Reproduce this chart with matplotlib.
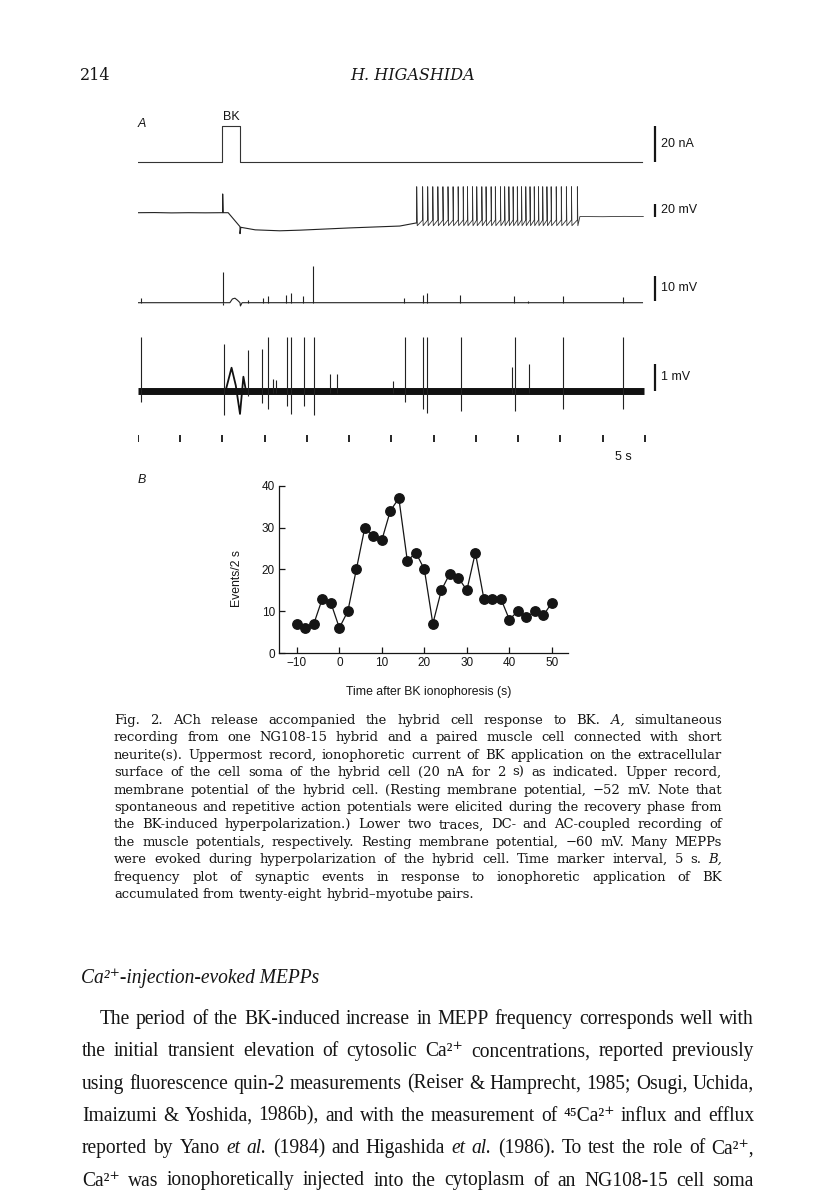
import matplotlib
matplotlib.use('Agg')
import matplotlib.pyplot as plt
import matplotlib.transforms as mtrans

# ---------------- data ----------------
# Panel B: frequency plot
time_s = [-10, -8, -6, -4, -2, 0, 2, 4, 6, 8, 10, 12, 14, 16, 18, 20, 22, 24, 26, 28,
          30, 32, 34, 36, 38, 40, 42, 44, 46, 48, 50]
events_per_2s = [7, 6, 7, 13, 12, 6, 10, 20, 30, 28, 27, 34, 37, 22, 24, 20, 7, 15, 19, 18,
                 15, 24, 13, 13, 13, 8, 10, 8.5, 10, 9, 12]
xticks_B = [-10, 0, 10, 20, 30, 40, 50]
yticks_B = [0, 10, 20, 30, 40]

# Panel A, trace 1: ionophoretic current (nA)
stim_t = [0, 9.93, 9.93, 12.1, 12.1, 59.6]
stim_nA = [0, 0, 20, 20, 0, 0]

# Panel A, trace 2: hybrid membrane potential (mV), slow part
memb_t = [0, 2, 4, 6, 8, 9.9, 10.05, 10.05, 10.1, 10.7, 12.1, 12.1, 12.2, 13.9, 16.8,
          19.2, 25.0, 31.0, 33.0]
memb_mV = [-52, -51.8, -52.3, -52, -52.2, -52, -52, -22.5, -52, -52, -74, -85, -75, -79,
           -80.5, -79.5, -76, -73, -68]
spike_t = [33.0, 33.7, 34.3, 34.9, 35.5, 36.1, 36.7, 37.3, 37.9, 38.5, 39.0, 39.6, 40.1,
           40.7, 41.2, 41.8, 42.3, 42.9, 43.4, 43.9, 44.4, 44.9, 45.4, 45.9, 46.4, 46.9,
           47.4, 47.9, 48.4, 48.9, 49.5, 50.1, 50.7, 51.3, 52.0]
spike_peak_mV = -11
spike_thresh_mV = -63.5
spike_trough_mV = -72.5
post_t = [52.3, 55.0, 57.5, 59.8]
post_mV = [-58, -58.3, -57.8, -58]

# Panel A, trace 3: muscle potential, DC-coupled (mV)
mdc_base_t = [0, 10.9, 11.2, 11.5, 11.8, 12.1, 12.15, 12.35, 59.7]
mdc_base_mV = [-60, -60, -58.5, -58.2, -59.0, -60, -61.3, -60, -60]
mdc_evt_t = [0.35, 10.05, 13.05, 14.8, 15.4, 17.5, 18.1, 19.6, 20.7, 31.5, 33.7, 34.2,
             38.1, 44.5, 46.2, 50.3, 57.4]
mdc_evt_amp = [1.9, 12.4, 1.1, 1.9, 2.7, 3.0, 4.0, 2.7, 14.7, 1.9, 3.1, 3.8,
               3.0, 2.7, 0.8, 2.7, 2.2]

# Panel A, trace 4: muscle potential, AC-coupled (mV)
mac_art_t = [10.4, 11.1, 11.6, 12.1, 12.5, 12.8]
mac_art_mV = [0, 0.87, 0.2, -0.88, 0.53, 0]
mac_evt_t = [0.35, 10.17, 13.1, 14.7, 15.4, 16.0, 16.4, 17.6, 18.1, 19.7, 20.8, 22.7,
             23.6, 30.2, 31.6, 33.7, 34.2, 38.2, 44.3, 44.6, 46.3, 50.3, 57.4]
mac_evt_up = [2.02, 1.77, 1.54, 1.57, 2.02, 0.45, 0.4, 2.02, 2.02, 2.02, 2.02, 0.62,
              0.62, 0.38, 2.02, 2.02, 2.02, 2.02, 0.89, 2.02, 1.01, 2.04, 2.02]
mac_evt_down = [0.42, 0.92, 0.2, 0.47, 0.69, 0.1, 0.1, 0.58, 0.89, 0.58, 0.92, 0.1,
                0.1, 0.1, 0.42, 0.70, 0.83, 0.76, 0.1, 0.76, 0.1, 0.70, 0.70]

marker_t = [0, 5, 10, 15, 20, 25, 30, 35, 40, 45, 50, 55, 60]

scale_labels = ['20 nA', '20 mV', '10 mV', '1 mV']

caption_lines = [
    "Fig. 2. ACh release accompanied the hybrid cell response to BK. *A, simultaneous",
    "recording from one NG108-15 hybrid and a paired muscle cell connected with short",
    "neurite(s). Uppermost record, ionophoretic current of BK application on the extracellular",
    "surface of the cell soma of the hybrid cell (20 nA for 2 s) as indicated. Upper record,",
    "membrane potential of the hybrid cell. (Resting membrane potential, \u221252 mV. Note that",
    "spontaneous and repetitive action potentials were elicited during the recovery phase from",
    "the BK-induced hyperpolarization.) Lower two traces, DC- and AC-coupled recording of",
    "the muscle potentials, respectively. Resting membrane potential, \u221260 mV. Many MEPPs",
    "were evoked during hyperpolarization of the hybrid cell. Time marker interval, 5 s. *B,",
    "frequency plot of synaptic events in response to ionophoretic application of BK",
    "accumulated from twenty-eight hybrid\u2013myotube pairs.",
]
body_heading = "Ca\u00b2\u207a-injection-evoked MEPPs"
body_lines = [
    "The period of the BK-induced increase in MEPP frequency corresponds well with",
    "the initial transient elevation of cytosolic Ca\u00b2\u207a concentrations, reported previously",
    "using fluorescence quin-2 measurements (Reiser & Hamprecht, 1985; Osugi, Uchida,",
    "Imaizumi & Yoshida, 1986b), and with the measurement of \u2074\u2075Ca\u00b2\u207a influx and efflux",
    "reported by Yano *et *al. (1984) and Higashida *et *al. (1986). To test the role of Ca\u00b2\u207a,",
    "Ca\u00b2\u207a was ionophoretically injected into the cytoplasm of an NG108-15 cell soma",
]

# ---------------- layout helpers ----------------
W, H = 816, 1201
fig = plt.figure(figsize=(W / 100, H / 100), dpi=100)
PX = mtrans.Affine2D().scale(1 / W, -1 / H).translate(0, 1) + fig.transFigure
INK = '#151515'
SANS = ['Liberation Sans', 'DejaVu Sans']


def px_axes(left, top, right, bottom):
    return fig.add_axes([left / W, 1 - bottom / H, (right - left) / W, (bottom - top) / H])


T0_PX, PX_PER_S, XR_PX = 137.7, 8.455, 700.0
TMAX = (XR_PX - T0_PX) / PX_PER_S


def trace_ax(top, bottom, base_px, base_val, ppu):
    ax = px_axes(T0_PX, top, XR_PX, bottom)
    ax.set_xlim(0, TMAX)
    ax.set_ylim(base_val - (bottom - base_px) / ppu, base_val + (base_px - top) / ppu)
    ax.axis('off')
    return ax


T_BAR = (655 - T0_PX) / PX_PER_S
T_LAB = (661 - T0_PX) / PX_PER_S

# ---------------- header ----------------
fig.text(80, 80, '214', transform=PX, fontsize=11.5, family='DejaVu Serif',
         va='baseline', ha='left', color=INK)
fig.text(413, 80, 'H. HIGASHIDA', transform=PX, fontsize=11.5, family='DejaVu Serif',
         style='italic', va='baseline', ha='center', color=INK)

# ---------------- panel A ----------------
fig.text(138, 124, 'A', transform=PX, fontsize=9, family=SANS, style='italic',
         va='center', ha='left', color=INK)

ax1 = trace_ax(105, 170, 162.3, 0, 1.83)
ax1.plot(stim_t, stim_nA, color='#333', lw=0.8)
ax1.vlines(T_BAR, 0, 20, color=INK, lw=1.6)
ax1.text(T_LAB, 10, scale_labels[0], fontsize=9, family=SANS, va='center', ha='left', color=INK)
ax1.text((stim_t[1] + stim_t[3]) / 2, 21.5, 'BK', fontsize=9, family=SANS, va='bottom',
         ha='center', color=INK)

ax2 = trace_ax(180, 240, 212.7, -52, 0.635)
ax2.plot(memb_t, memb_mV, color='#222', lw=0.8)
tr_t, tr_v = [memb_t[-1]], [memb_mV[-1]]
for ts in spike_t:
    tr_t += [ts, ts, ts + 0.06]
    tr_v += [spike_thresh_mV, spike_peak_mV, spike_trough_mV]
tr_t += post_t
tr_v += post_mV
ax2.plot(tr_t, tr_v, color='#333', lw=0.6)
ax2.vlines(T_BAR, -58.3, -38.3, color=INK, lw=1.6)
ax2.text(T_LAB, -48.3, scale_labels[1], fontsize=9, family=SANS, va='center', ha='left', color=INK)

ax3 = trace_ax(258, 312, 302.7, -60, 2.5)
ax3.plot(mdc_base_t, mdc_base_mV, color='#222', lw=0.8)
ax3.vlines(mdc_evt_t, -60, [-60 + a for a in mdc_evt_amp], color='#222', lw=0.8)
ax3.vlines(mdc_evt_t[1], -61, -60, color='#222', lw=0.8)
ax3.vlines(T_BAR, -59.3, -49.3, color=INK, lw=1.6)
ax3.text(T_LAB, -54.3, scale_labels[2], fontsize=9, family=SANS, va='center', ha='left', color=INK)

ax4 = trace_ax(330, 425, 390.7, 0, 26.4)
ax4.plot([0.05, 59.9], [0, 0], color='#111', lw=5.0, solid_capstyle='butt')
ax4.plot(mac_art_t, mac_art_mV, color='#111', lw=1.3)
ax4.vlines(mac_evt_t, [-d for d in mac_evt_down], mac_evt_up, color='#222', lw=0.8)
ax4.vlines(T_BAR, 0, 1, color=INK, lw=1.6)
ax4.text(T_LAB, 0.5, scale_labels[3], fontsize=9, family=SANS, va='center', ha='left', color=INK)

# time markers: axes 430..445 px, 1 unit = 1 px upward from the bottom
ax5 = trace_ax(430, 445, 445, 0, 1.0)
ax5.vlines(marker_t, 3.3, 10.0, color=INK, lw=1.3)
fig.text(623, 457, '5 s', transform=PX, fontsize=9, family=SANS, va='center', ha='center',
         color=INK)

# ---------------- panel B ----------------
fig.text(138, 480, 'B', transform=PX, fontsize=9, family=SANS, style='italic',
         va='center', ha='left', color=INK)
axB = px_axes(279, 485.7, 568, 653)
axB.plot(time_s, events_per_2s, '-o', color=INK, lw=0.9, ms=6.8)
axB.set_xlim(-14.2, 53.8)
axB.set_ylim(0, 40)
for s in ('top', 'right'):
    axB.spines[s].set_visible(False)
for s in ('left', 'bottom'):
    axB.spines[s].set_linewidth(0.9)
    axB.spines[s].set_color(INK)
axB.set_xticks(xticks_B)
axB.set_yticks(yticks_B)
axB.tick_params(direction='in', length=4.5, width=0.9, labelsize=8.5, pad=3, colors=INK)
for lab in axB.get_xticklabels() + axB.get_yticklabels():
    lab.set_family(SANS)
axB.set_xlabel('Time after BK ionophoresis (s)', fontsize=8.8, family=SANS, color=INK)
axB.set_ylabel('Events/2 s', fontsize=8.8, family=SANS, color=INK)
axB.xaxis.set_label_coords(0.519, -0.197)
axB.yaxis.set_label_coords(-0.126, 0.448)

# ---------------- justified text ----------------
renderer = fig.canvas.get_renderer()


def measure(s, size, family, style):
    t = fig.text(0, 0, s, fontsize=size, family=family, style=style)
    w = t.get_window_extent(renderer).width
    t.remove()
    return w


def paragraph(lines, x0, x1, y0, dy, family, first_indent=0.0, ragged_last=True):
    toks = [ln.split(' ') for ln in lines]

    def widths(tl, size):
        return [measure(k.replace('*', ''), size, family,
                        'italic' if k.startswith('*') else 'normal') for k in tl]

    sp10 = measure('a a', 10, family, 'normal') - measure('aa', 10, family, 'normal')
    ratios = []
    for i, tl in enumerate(toks):
        avail = x1 - x0 - (first_indent if i == 0 else 0)
        ratios.append(avail / (sum(widths(tl, 10)) + sp10 * (len(tl) - 1)))
    size = 10 * min(ratios) * 0.995
    sp = sp10 * size / 10
    for i, tl in enumerate(toks):
        ws = widths(tl, size)
        xs = x0 + (first_indent if i == 0 else 0)
        last = ragged_last and i == len(toks) - 1
        gap = sp if last else (x1 - xs - sum(ws)) / (len(tl) - 1)
        x = xs
        for k, w in zip(tl, ws):
            fig.text(x, y0 + i * dy, k.replace('*', ''), transform=PX, fontsize=size,
                     family=family, style='italic' if k.startswith('*') else 'normal',
                     va='baseline', ha='left', color=INK)
            x += w + gap
    return size


paragraph(caption_lines, 114, 722, 724, 17.4, ['DejaVu Serif'])

body_family = ['Liberation Serif', 'DejaVu Serif']
bsize = paragraph(body_lines, 82, 754, 1024, 32.3, body_family, first_indent=17.6,
                  ragged_last=False)
fig.text(81, 983, body_heading, transform=PX, fontsize=bsize, family=body_family,
         style='italic', va='baseline', ha='left', color=INK)

fig.savefig('out.png', dpi=100, facecolor='white')
